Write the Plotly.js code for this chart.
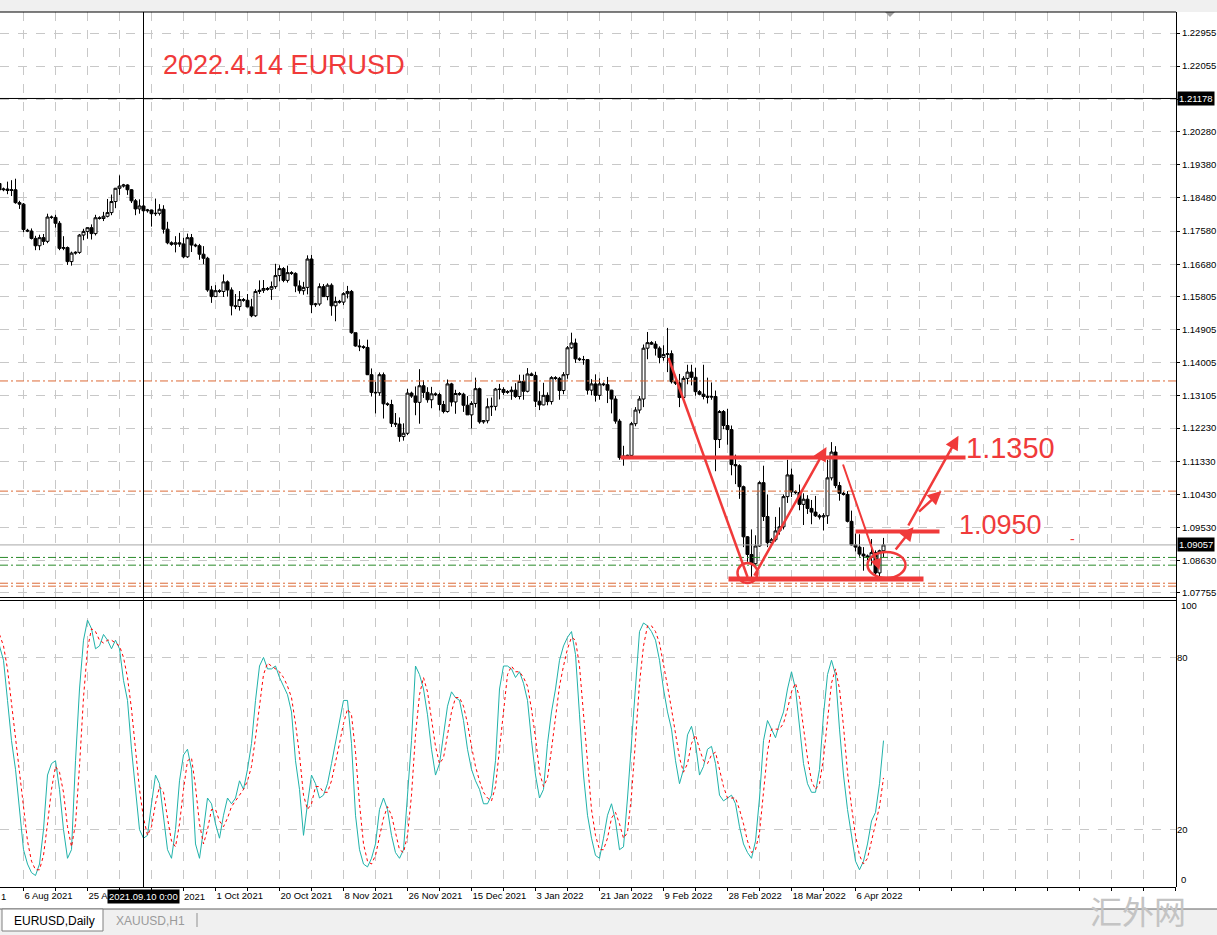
<!DOCTYPE html>
<html><head><meta charset="utf-8">
<script src="https://cdn.plot.ly/plotly-3.0.1.min.js"></script>
<style>html,body{margin:0;padding:0;background:#fff;overflow:hidden}#chart{width:1217px;height:935px}</style>
</head><body><div id="chart"></div>
<script>
// ---------- DATA (EURUSD Daily) ----------
const firstDate = '2021-07-30';
const open = [1.1887,
 1.1870,1.1872,1.1868,1.1870,1.1835,1.1831,
 1.1760,1.1758,1.1738,1.1718,1.1740,1.1730,
 1.1796,1.1795,1.1779,1.1711,1.1713,1.1675,
 1.1698,1.1700,1.1747,1.1757,1.1767,1.1751,
 1.1794,1.1792,1.1798,1.1808,1.1838,1.1874,
 1.1880,1.1883,1.1870,1.1840,1.1818,1.1826,
 1.1813,1.1815,1.1805,1.1806,1.1817,1.1763,
 1.1726,1.1722,1.1726,1.1723,1.1688,1.1740,
 1.1720,1.1718,1.1695,1.1684,1.1598,1.1580,
 1.1596,1.1594,1.1620,1.1598,1.1555,1.1553,
 1.1572,1.1570,1.1552,1.1528,1.1594,1.1597,
 1.1602,1.1600,1.1607,1.1637,1.1656,1.1624,
 1.1645,1.1643,1.1609,1.1596,1.1605,1.1682,
 1.1558,1.1560,1.1607,1.1580,1.1611,1.1555,
 1.1567,1.1565,1.1588,1.1594,1.1482,1.1446,
 1.1444,1.1442,1.1368,1.1320,1.1319,1.1368,
 1.1289,1.1287,1.1236,1.1234,1.1200,1.1209,
 1.1318,1.1310,1.1293,1.1338,1.1320,1.1300,
 1.1316,1.1314,1.1287,1.1268,1.1343,1.1294,
 1.1317,1.1315,1.1285,1.1259,1.1290,1.1330,
 1.1240,1.1243,1.1281,1.1282,1.1329,1.1328,
 1.1320,1.1322,1.1326,1.1309,1.1350,1.1323,
 1.1370,1.1366,1.1296,1.1286,1.1312,1.1295,
 1.1360,1.1358,1.1325,1.1368,1.1441,1.1454,
 1.1411,1.1409,1.1409,1.1326,1.1343,1.1312,
 1.1343,1.1341,1.1326,1.1302,1.1242,1.1143,
 1.1147,1.1149,1.1235,1.1272,1.1302,1.1440,
 1.1455,1.1451,1.1440,1.1415,1.1423,1.1425,
 1.1349,1.1345,1.1306,1.1358,1.1375,1.1361,
 1.1322,1.1315,1.1309,1.1307,1.1309,1.1192,
 1.1268,1.1230,1.1219,1.1124,1.1121,1.1064,
 1.0928,1.0880,1.0855,1.0903,1.1075,1.0983,
 1.0912,1.0920,1.0944,1.0955,1.1037,1.1096,
 1.1050,1.1048,1.1016,1.1030,1.1005,1.0995,
 1.0985,1.0982,1.0985,1.1088,1.1158,1.1067,
 1.1046,1.1043,1.0970,1.0906,1.0900,1.0881,
 1.0876,1.0872,1.0885,1.0830,1.0890];
const high = [1.1909,
 1.1876,1.1892,1.1896,1.1900,1.1840,1.1834,
 1.1764,1.1765,1.1745,1.1748,1.1750,1.1805,
 1.1800,1.1802,1.1785,1.1744,1.1716,1.1702,
 1.1703,1.1750,1.1764,1.1768,1.1776,1.1802,
 1.1798,1.1810,1.1845,1.1857,1.1875,1.1909,
 1.1886,1.1885,1.1872,1.1845,1.1844,1.1847,
 1.1818,1.1816,1.1846,1.1831,1.1828,1.1783,
 1.1730,1.1744,1.1753,1.1740,1.1751,1.1750,
 1.1724,1.1723,1.1717,1.1688,1.1609,1.1611,
 1.1600,1.1640,1.1624,1.1605,1.1587,1.1595,
 1.1576,1.1587,1.1574,1.1600,1.1624,1.1625,
 1.1606,1.1621,1.1669,1.1665,1.1660,1.1664,
 1.1649,1.1646,1.1624,1.1620,1.1692,1.1693,
 1.1563,1.1616,1.1614,1.1616,1.1616,1.1580,
 1.1571,1.1592,1.1609,1.1598,1.1482,1.1464,
 1.1448,1.1463,1.1385,1.1349,1.1374,1.1374,
 1.1293,1.1300,1.1264,1.1252,1.1236,1.1330,
 1.1322,1.1336,1.1383,1.1353,1.1334,1.1335,
 1.1320,1.1319,1.1297,1.1355,1.1346,1.1327,
 1.1321,1.1319,1.1310,1.1296,1.1360,1.1333,
 1.1245,1.1304,1.1306,1.1332,1.1343,1.1334,
 1.1326,1.1336,1.1345,1.1368,1.1368,1.1386,
 1.1374,1.1376,1.1323,1.1346,1.1320,1.1364,
 1.1364,1.1362,1.1375,1.1446,1.1482,1.1466,
 1.1415,1.1419,1.1410,1.1356,1.1369,1.1358,
 1.1347,1.1362,1.1327,1.1310,1.1248,1.1175,
 1.1151,1.1240,1.1280,1.1310,1.1450,1.1484,
 1.1459,1.1459,1.1445,1.1448,1.1495,1.1434,
 1.1353,1.1370,1.1364,1.1395,1.1395,1.1387,
 1.1326,1.1395,1.1360,1.1347,1.1325,1.1272,
 1.1272,1.1275,1.1230,1.1151,1.1125,1.1067,
 1.0930,1.0948,1.0932,1.1079,1.1121,1.1043,
 1.0925,1.0982,1.1008,1.1043,1.1137,1.1113,
 1.1054,1.1070,1.1046,1.1041,1.1028,1.1039,
 1.0990,1.0992,1.1137,1.1185,1.1174,1.1077,
 1.1050,1.1052,1.0999,1.0937,1.0935,1.0900,
 1.0880,1.0922,1.0891,1.0893,1.0925];
const low = [1.1862,
 1.1866,1.1858,1.1853,1.1832,1.1818,1.1755,
 1.1755,1.1735,1.1706,1.1706,1.1720,1.1725,
 1.1791,1.1767,1.1706,1.1706,1.1666,1.1664,
 1.1694,1.1696,1.1733,1.1737,1.1735,1.1746,
 1.1789,1.1785,1.1795,1.1801,1.1820,1.1856,
 1.1876,1.1856,1.1834,1.1801,1.1805,1.1809,
 1.1808,1.1770,1.1799,1.1800,1.1751,1.1722,
 1.1718,1.1700,1.1715,1.1684,1.1685,1.1701,
 1.1714,1.1680,1.1668,1.1593,1.1563,1.1580,
 1.1590,1.1579,1.1580,1.1529,1.1546,1.1542,
 1.1566,1.1551,1.1524,1.1525,1.1587,1.1590,
 1.1596,1.1571,1.1601,1.1621,1.1619,1.1618,
 1.1639,1.1592,1.1588,1.1585,1.1586,1.1535,
 1.1552,1.1555,1.1580,1.1570,1.1528,1.1513,
 1.1561,1.1557,1.1575,1.1479,1.1444,1.1432,
 1.1438,1.1367,1.1309,1.1263,1.1311,1.1249,
 1.1283,1.1226,1.1226,1.1186,1.1189,1.1204,
 1.1305,1.1258,1.1235,1.1305,1.1292,1.1277,
 1.1310,1.1271,1.1263,1.1265,1.1282,1.1262,
 1.1311,1.1267,1.1259,1.1222,1.1279,1.1235,
 1.1235,1.1236,1.1256,1.1271,1.1301,1.1313,
 1.1316,1.1300,1.1305,1.1301,1.1300,1.1320,
 1.1364,1.1280,1.1272,1.1285,1.1285,1.1287,
 1.1354,1.1300,1.1315,1.1357,1.1438,1.1400,
 1.1405,1.1395,1.1314,1.1312,1.1295,1.1300,
 1.1337,1.1291,1.1263,1.1235,1.1137,1.1121,
 1.1141,1.1140,1.1228,1.1263,1.1280,1.1410,
 1.1449,1.1420,1.1399,1.1406,1.1375,1.1344,
 1.1340,1.1280,1.1302,1.1342,1.1339,1.1311,
 1.1312,1.1301,1.1290,1.1300,1.1106,1.1169,
 1.1220,1.1178,1.1095,1.1071,1.1031,1.0900,
 1.0860,1.0806,1.0852,1.0901,1.0971,1.0900,
 1.0905,1.0915,1.0934,1.0948,1.1020,1.1036,
 1.1044,1.1000,1.0960,1.0990,1.0962,1.0982,
 1.0975,1.0945,1.0963,1.1081,1.1060,1.1026,
 1.1040,1.0967,1.0904,1.0888,1.0874,1.0836,
 1.0865,1.0851,1.0821,1.0811,1.0872];
const close = [1.1870,
 1.1872,1.1868,1.1870,1.1835,1.1831,1.1762,
 1.1758,1.1738,1.1718,1.1740,1.1730,1.1796,
 1.1795,1.1779,1.1711,1.1713,1.1675,1.1698,
 1.1700,1.1747,1.1757,1.1767,1.1751,1.1794,
 1.1792,1.1798,1.1808,1.1838,1.1874,1.1880,
 1.1883,1.1870,1.1840,1.1818,1.1826,1.1813,
 1.1815,1.1805,1.1806,1.1817,1.1763,1.1726,
 1.1722,1.1726,1.1723,1.1688,1.1740,1.1720,
 1.1718,1.1695,1.1684,1.1598,1.1580,1.1596,
 1.1594,1.1620,1.1598,1.1555,1.1553,1.1572,
 1.1570,1.1552,1.1528,1.1594,1.1597,1.1602,
 1.1600,1.1607,1.1637,1.1656,1.1624,1.1645,
 1.1643,1.1609,1.1596,1.1605,1.1682,1.1558,
 1.1560,1.1607,1.1580,1.1611,1.1555,1.1567,
 1.1565,1.1588,1.1594,1.1482,1.1446,1.1444,
 1.1442,1.1368,1.1320,1.1319,1.1368,1.1289,
 1.1287,1.1236,1.1234,1.1200,1.1209,1.1318,
 1.1310,1.1293,1.1338,1.1320,1.1300,1.1316,
 1.1314,1.1287,1.1268,1.1343,1.1294,1.1317,
 1.1315,1.1285,1.1259,1.1290,1.1330,1.1240,
 1.1243,1.1281,1.1282,1.1329,1.1328,1.1320,
 1.1322,1.1326,1.1309,1.1350,1.1323,1.1370,
 1.1366,1.1296,1.1286,1.1312,1.1295,1.1360,
 1.1358,1.1325,1.1368,1.1441,1.1454,1.1411,
 1.1409,1.1409,1.1326,1.1343,1.1312,1.1343,
 1.1341,1.1326,1.1302,1.1242,1.1143,1.1147,
 1.1149,1.1235,1.1272,1.1302,1.1440,1.1455,
 1.1451,1.1440,1.1415,1.1423,1.1425,1.1349,
 1.1345,1.1306,1.1358,1.1375,1.1361,1.1322,
 1.1315,1.1309,1.1307,1.1309,1.1192,1.1268,
 1.1230,1.1219,1.1124,1.1121,1.1064,1.0928,
 1.0880,1.0855,1.0903,1.1075,1.0983,1.0912,
 1.0920,1.0944,1.0955,1.1037,1.1096,1.1050,
 1.1048,1.1016,1.1030,1.1005,1.0995,1.0985,
 1.0982,1.0985,1.1088,1.1158,1.1067,1.1046,
 1.1043,1.0970,1.0906,1.0900,1.0881,1.0876,
 1.0872,1.0885,1.0830,1.0890,1.0906];
const stochMain = [84,
 79,65,51,41,27,13, 8,5,4,8,20,39, 43,44,34,20,10,13, 44,69,86,93,90,83,
 84,88,86,83,86,83, 72,65,48,34,20,17, 18,29,39,36,24,13, 10,20,37,46,48,41,
 15,10,20,31,29,22, 17,25,31,29,31,37, 34,41,50,65,77,80, 76,76,77,73,70,67,
 61,44,34,18,29,39, 36,31,32,36,43,50, 57,65,65,50,25,13, 8,7,10,15,27,31,
 27,18,12,10,13,31, 51,77,74,69,60,48, 39,43,53,63,68,66, 65,58,48,41,37,34,
 29,29,32,44,69,77, 77,76,73,75,71,65, 51,39,31,34,50,61, 69,79,84,87,89,81,
 60,39,25,17,11,10, 17,25,29,23,13,14, 31,51,72,89,92,91, 89,86,79,69,61,55,
 44,36,41,53,56,50, 39,42,48,49,43,32, 30,31,32,29,21,15, 12,10,16,31,51,58,
 55,52,57,61,69,75, 69,55,43,36,33,33, 41,60,74,79,74,55, 39,27,18,9,6,9,
 15,23,26,36,51];
const stochSignal = [88,
 84,76,65,52,40,27, 16,9,6,6,11,22, 34,42,40,33,21,14, 22,42,66,83,90,89,
 86,85,86,86,85,84, 80,73,62,49,34,24, 18,21,29,35,33,24, 16,14,22,34,44,45,
 35,22,15,20,27,27, 23,21,24,28,30,32, 34,37,42,52,64,74, 78,77,76,75,73,70,
 66,57,46,32,27,29, 35,35,33,33,37,43, 50,57,62,60,47,29, 15,9,8,11,17,24,
 28,25,19,13,12,18, 32,53,67,73,68,59, 49,43,45,53,61,66, 66,63,57,49,42,37,
 33,31,30,35,48,63, 74,77,75,75,73,70, 62,52,40,35,38,48, 60,70,77,83,87,86,
 77,60,41,27,18,13, 13,17,24,26,22,17, 19,32,51,71,84,91, 91,89,85,78,70,62,
 53,45,40,43,50,53, 48,44,43,46,47,41, 35,31,31,31,27,22, 16,12,13,19,33,47,
 55,55,55,57,62,68, 71,66,56,45,37,34, 36,45,58,71,76,69, 56,40,28,18,11,8,
 10,16,21,28,38];
const tickDates = ['2021-08-06','2021-08-25','2021-09-13','2021-10-01','2021-10-20','2021-11-08','2021-11-26',
 '2021-12-15','2022-01-03','2022-01-21','2022-02-09','2022-02-28','2022-03-18','2022-04-06'];
const tickText = ['6 Aug 2021','25 Aug 2021','13 Sep 2021','1 Oct 2021','20 Oct 2021','8 Nov 2021','26 Nov 2021',
 '15 Dec 2021','3 Jan 2022','21 Jan 2022','9 Feb 2022','28 Feb 2022','18 Mar 2022','6 Apr 2022'];
const priceTicks = [1.22955,1.22055,1.21155,1.20280,1.19380,1.18480,1.17580,1.16680,1.15805,
 1.14905,1.14005,1.13105,1.12230,1.11330,1.10430,1.09530,1.08630,1.07755];
const stochTicks = [20, 80];
const orangeLevels = [1.1351, 1.1052, 1.0802, 1.0794];
const greenLevels = [1.0872, 1.0851];
const crossDate = '2021-09-10', crossDateText = '2021.09.10 0:00', crossPrice = 1.21178;
const bidText = '1.09057';
// parts of the date labels that stay visible beside the cursor's date box
const visibleLabelParts = { '25 Aug 2021': '25 A', '13 Sep 2021': '' };
const visibleTail = '2021';

// ---------- categories (trading days incl. Sunday bars) ----------
const dates = [];
{ const d = new Date(firstDate + 'T00:00:00Z');
  while (dates.length < close.length) { if (d.getUTCDay() !== 6) dates.push(d.toISOString().slice(0,10)); d.setUTCDate(d.getUTCDate()+1); } }
const idx = dates.map((_, i) => i);
const di = s => dates.indexOf(s);

// ---------- page geometry helpers (layout only) ----------
const PW = 1176, PT = 12, PB = 887;
const fx = x => x / PW, fy = y => (PB - y) / (PB - PT);
const FONT = 'Liberation Sans, Arial, sans-serif';
const RED = '#f03a3a';

const labelIdx = tickDates.map(di);
const gridVals = [], gridText = [];
for (let v = labelIdx[0]; v <= 294; v += 8) {
  gridVals.push(v); const k = labelIdx.indexOf(v);
  let t = k >= 0 ? tickText[k] : '';
  if (t in visibleLabelParts) t = visibleLabelParts[t];
  gridText.push(t);
}

const traces = [
  { type: 'candlestick', x: idx, open, high, low, close, xaxis: 'x', yaxis: 'y',
    increasing: { line: { color: '#000', width: 1 }, fillcolor: '#fff' },
    decreasing: { line: { color: '#000', width: 1 }, fillcolor: '#000' },
    whiskerwidth: 0, hoverinfo: 'skip' },
  { type: 'scatter', mode: 'lines', x: idx, y: stochMain, xaxis: 'x', yaxis: 'y2',
    line: { color: '#20b2aa', width: 1 }, hoverinfo: 'skip' },
  { type: 'scatter', mode: 'lines', x: idx, y: stochSignal, xaxis: 'x', yaxis: 'y2',
    line: { color: '#ff0000', width: 1, dash: 'dot' }, hoverinfo: 'skip' }
];

const shapes = [];
shapes.push({ type:'rect', xref:'paper', yref:'paper', x0:fx(0), x1:fx(1217), y0:fy(PT), y1:fy(0), fillcolor:'#f0f0f0', line:{width:0}, layer:'below' });
shapes.push({ type:'rect', xref:'paper', yref:'paper', x0:fx(0), x1:fx(1217), y0:fy(935), y1:fy(909), fillcolor:'#f0f0f0', line:{width:0} });
shapes.push({ type:'line', xref:'paper', yref:'paper', x0:fx(0), x1:fx(1217), y0:fy(909), y1:fy(909), line:{color:'#606060', width:1} });
shapes.push({ type:'rect', xref:'paper', yref:'paper', x0:fx(2), x1:fx(103), y0:fy(931), y1:fy(909), fillcolor:'#fff', line:{color:'#808080', width:1} });
shapes.push({ type:'line', xref:'paper', yref:'paper', x0:fx(197), x1:fx(197), y0:fy(913), y1:fy(927), line:{color:'#909090', width:1} });
shapes.push({ type:'path', xref:'paper', yref:'paper', path:`M ${fx(885)} ${fy(12)} L ${fx(895)} ${fy(12)} L ${fx(890)} ${fy(17)} Z`, fillcolor:'#a0a0a0', line:{width:0} });
shapes.push({ type:'line', xref:'paper', yref:'paper', x0:0, x1:1, y0:1, y1:1, line:{color:'#000', width:1} });
shapes.push({ type:'line', xref:'paper', yref:'paper', x0:0, x1:1, y0:fy(597.5), y1:fy(597.5), line:{color:'#000', width:1} });
shapes.push({ type:'line', xref:'paper', yref:'paper', x0:0, x1:1, y0:fy(600.5), y1:fy(600.5), line:{color:'#000', width:1} });
shapes.push({ type:'line', xref:'paper', yref:'paper', x0:fx(1176.5), x1:fx(1176.5), y0:0, y1:1, line:{color:'#000', width:1} });
orangeLevels.forEach(v => shapes.push({ type:'line', xref:'paper', yref:'y', x0:0, x1:1, y0:v, y1:v, line:{color:'#dc6a36', width:1, dash:'8px,3px,2px,3px'} }));
greenLevels.forEach(v => shapes.push({ type:'line', xref:'paper', yref:'y', x0:0, x1:1, y0:v, y1:v, line:{color:'#2a8a2a', width:1, dash:'8px,3px,2px,3px'} }));
const lastClose = close[close.length - 1];
shapes.push({ type:'line', xref:'paper', yref:'y', x0:0, x1:1, y0:lastClose, y1:lastClose, line:{color:'#a8a8a8', width:1} });
shapes.push({ type:'line', xref:'paper', yref:'y', x0:0, x1:1, y0:crossPrice, y1:crossPrice, line:{color:'#000', width:1} });
shapes.push({ type:'line', xref:'x', yref:'paper', x0:di(crossDate), x1:di(crossDate), y0:0, y1:1, line:{color:'#000', width:1} });

// red hand drawings (bar index, price)
const redLines = [
  { x0:155.25, x1:241.5, y0:1.11432, y1:1.11432, w:4 },
  { x0:214.0, x1:235.0, y0:1.09423, y1:1.09423, w:4 },
  { x0:182.25, x1:231.0, y0:1.08134, y1:1.08134, w:5 },
  { x0:167.25, x1:187.0, y0:1.14133, y1:1.08188, w:2.5 }
];
redLines.forEach(l => shapes.push({ type:'line', xref:'x', yref:'y', x0:l.x0, x1:l.x1, y0:l.y0, y1:l.y1, line:{color:RED, width:l.w} }));
const redCircles = [
  { x0:184.5, x1:189.5, y0:1.08026, y1:1.08569 },
  { x0:217.0, x1:226.5, y0:1.08162, y1:1.08867 }
];
redCircles.forEach(c => shapes.push({ type:'circle', xref:'x', yref:'y', x0:c.x0, x1:c.x1, y0:c.y0, y1:c.y1, line:{color:RED, width:2.5} }));

const redArrows = [
  { tx:188.5, ty:1.08188, hx:206.75, hy:1.11717, w:2.5 },
  { tx:210.75, ty:1.11283, hx:220.0, hy:1.08378, w:2 },
  { tx:223.75, ty:1.08894, hx:228.5, hy:1.09546, w:2.5 },
  { tx:227.0, ty:1.09546, hx:239.75, hy:1.12020, w:2.5 },
  { tx:229.5, ty:1.09926, hx:235.5, hy:1.10523, w:2.5 }
];
const annotations = redArrows.map(a => ({ x:a.hx, y:a.hy, ax:a.tx, ay:a.ty, xref:'x', yref:'y', axref:'x', ayref:'y',
  text:'', showarrow:true, arrowhead:2, arrowsize:1.1, arrowwidth:a.w, arrowcolor:RED, standoff:0 }));

const txt = (x, y, text, opts) => Object.assign({ xref:'paper', yref:'paper', x:fx(x), y:fy(y), text, showarrow:false,
  xanchor:'left', yanchor:'middle', font:{ family:FONT, size:10, color:'#000' } }, opts || {});
annotations.push(txt(161, 65, '2022.4.14 EURUSD', { font:{ family:FONT, size:27, color:RED } }));
annotations.push(txt(964, 448, '1.1350', { font:{ family:FONT, size:29, color:RED } }));
annotations.push(txt(957, 525, '1.0950', { font:{ family:FONT, size:27, color:RED } }));
annotations.push(txt(1068, 539, '-', { font:{ family:FONT, size:14, color:RED } }));
annotations.push({ xref:'paper', yref:'y', x:fx(1177), y:crossPrice, xanchor:'left', yanchor:'middle', text:crossPrice.toFixed(5),
  showarrow:false, bgcolor:'#000', borderpad:1, font:{ family:FONT, size:9.5, color:'#fff' } });
annotations.push({ xref:'paper', yref:'y', x:fx(1177), y:lastClose, xanchor:'left', yanchor:'middle', text:bidText,
  showarrow:false, bgcolor:'#000', borderpad:1, font:{ family:FONT, size:9.5, color:'#fff' } });
annotations.push({ xref:'x', yref:'paper', x:di(crossDate), y:fy(896.5), xanchor:'center', yanchor:'middle', text:crossDateText,
  showarrow:false, bgcolor:'#000', borderpad:1, font:{ family:FONT, size:9.5, color:'#fff' } });
annotations.push(txt(182, 896.5, visibleTail, { font:{ family:FONT, size:9.5, color:'#000' } }));
annotations.push(txt(1179, 605, '100', { font:{ family:FONT, size:9.5, color:'#000' } }));
annotations.push(txt(1179, 879, '0', { font:{ family:FONT, size:9.5, color:'#000' } }));
annotations.push(txt(-1, 897, '1', { font:{ family:FONT, size:9.5, color:'#000' } }));
annotations.push(txt(12, 921, 'EURUSD,Daily', { font:{ family:FONT, size:12, color:'#000' } }));
annotations.push(txt(114, 921, 'XAUUSD,H1', { font:{ family:FONT, size:12, color:'#9a9a9a' } }));
annotations.push({ xref:'paper', yref:'paper', x:fx(1088), y:fy(934.5), xanchor:'left', yanchor:'bottom', text:'汇外网',
  showarrow:false, font:{ family:'Noto Sans CJK SC', size:32, color:'#c4c4c4' } });

const layout = {
  width:1217, height:935, margin:{ l:0, r:1217-PW, t:PT, b:935-PB, pad:0 },
  paper_bgcolor:'#fff', plot_bgcolor:'#fff', showlegend:false, hovermode:false, dragmode:false,
  boxgap:0.25, boxgroupgap:0,
  xaxis: { range:[0.125, 294.125], anchor:'y2', tickmode:'array', tickvals:gridVals, ticktext:gridText,
    showgrid:true, gridcolor:'#c8c8c8', griddash:'dash', gridwidth:1, zeroline:false,
    ticks:'outside', ticklen:3, tickcolor:'#000', showline:true, linecolor:'#000', linewidth:1,
    ticklabelposition:'outside right', tickfont:{ family:FONT, size:9.5, color:'#000' }, rangeslider:{ visible:false } },
  yaxis: { domain:[fy(597), 1], range:[1.07646, 1.23525], side:'right', tickmode:'array', tickvals:priceTicks,
    ticktext:priceTicks.map(v => Math.abs(v - crossPrice) < 0.003 ? '' : v.toFixed(5)), showgrid:true, gridcolor:'#c8c8c8', griddash:'dash', zeroline:false,
    ticks:'outside', ticklen:3, tickcolor:'#000', showline:false, tickfont:{ family:FONT, size:9.5, color:'#000' } },
  yaxis2: { domain:[0, fy(600)], range:[0, 100], side:'right', tickmode:'array', tickvals:stochTicks,
    ticktext:stochTicks.map(String), showgrid:true, gridcolor:'#c8c8c8', griddash:'dash', zeroline:false,
    ticks:'', showline:false, tickfont:{ family:FONT, size:9.5, color:'#000' } },
  shapes, annotations
};
Plotly.newPlot('chart', traces, layout, { staticPlot:true, displayModeBar:false });
</script></body></html>
